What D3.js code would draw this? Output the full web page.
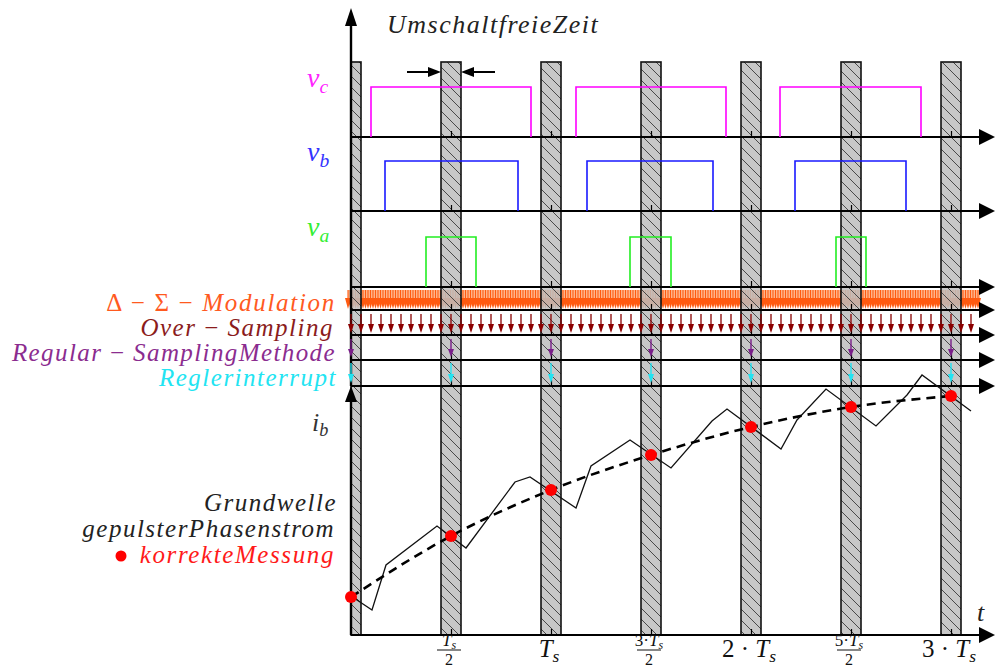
<!DOCTYPE html>
<html><head><meta charset="utf-8">
<script src="https://cdn.jsdelivr.net/npm/d3@7"></script>
<style>
body{margin:0;background:#fff}
</style>
</head><body>
<svg id="c" width="995" height="668"></svg>
<script>
// ================= DATA (time in units of Ts) =================
const deadTimeCenters = [0, 0.5, 1, 1.5, 2, 2.5, 3];
const deadTimeWidth = 0.1;
const vcPulses = [[0.1, 0.9], [1.125, 1.875], [2.145, 2.85]];
const vbPulses = [[0.17, 0.835], [1.18, 1.81], [2.22, 2.775]];
const vaPulses = [[0.375, 0.625], [1.395, 1.6], [2.425, 2.575]];
const regularSamplingTimes = [0, 0.5, 1, 1.5, 2, 2.5, 3];
const interruptTimes = [0, 0.5, 1, 1.5, 2, 2.5, 3];
const overSamplingStep = 0.05, overSamplingEnd = 3.1;
const deltaSigmaStep = 0.0125, deltaSigmaStart = -0.015, deltaSigmaEnd = 3.145;
// pulsed phase current i_b (zig-zag)
const phaseT = [0, 0.105, 0.175, 0.43, 0.575, 0.82, 0.895, 1.125, 1.2, 1.395, 1.6, 1.805, 1.88, 2.15, 2.23, 2.375, 2.625, 2.78, 2.855, 3.1];
const phaseI = [39, 25, 70, 109, 87, 153, 158, 127, 169, 195, 167, 214, 226, 186, 215, 246, 209, 240, 260, 224];
// fundamental wave and correct measurements
const fundT = [0, 0.5, 1, 1.5, 2, 2.5, 3];
const fundI = [38, 99, 145, 180, 208, 228, 239];
const tickTimes = [0.5, 1, 1.5, 2, 2.5, 3];
const tickLabels = ["T_s/2", "T_s", "3·T_s/2", "2 · T_s", "5·T_s/2", "3 · T_s"];

// ================= LAYOUT =================
const FONT = "Liberation Serif";
const svg = d3.select("#c");
const x = d3.scaleLinear().domain([0, 3.2]).range([351, 991]);
const yI = d3.scaleLinear().domain([0, 250]).range([635, 385]);
const axisEnd = 3.22;
const rows = {vc:137, vb:211, va:287, ds:310, os:335, rs:360, ri:386};
const pulseH = 50, barTop = 62, bottomY = 635;

const defs = svg.append("defs");
const pat = defs.append("pattern").attr("id","hatch").attr("patternUnits","userSpaceOnUse")
  .attr("width",11).attr("height",11);
pat.append("path").attr("d","M-2,-2 L13,13 M-2,9 L2,13 M9,-2 L13,2")
  .attr("stroke","#3a3a3a").attr("stroke-width",0.9);

function arrowDown(g, xp, y0, y1, color, hw, hh, sw){
  g.append("line").attr("x1",xp).attr("x2",xp).attr("y1",y0).attr("y2",y1-hh+1)
    .attr("stroke",color).attr("stroke-width",sw);
  g.append("path").attr("d",`M${xp},${y1} L${xp-hw/2},${y1-hh} L${xp+hw/2},${y1-hh} Z`).attr("fill",color);
}

// ---- Delta-Sigma band ----
const gDS = svg.append("g");
const dsTimes = d3.range(deltaSigmaStart, deltaSigmaEnd, deltaSigmaStep);
gDS.append("rect").attr("x",x(deltaSigmaStart)).attr("y",290).attr("width",x(deltaSigmaEnd)-x(deltaSigmaStart)).attr("height",9)
  .attr("fill","#ffb891");
dsTimes.forEach(t => arrowDown(gDS, x(t), 290, rows.ds-1, "#ff5a10", 6, 11, 1.1));

// ---- dead-time bars ----
const gBars = svg.append("g");
deadTimeCenters.forEach(c => {
  const x0 = x(Math.max(0, c - deadTimeWidth/2)), x1 = x(c + deadTimeWidth/2);
  gBars.append("rect").attr("x",x0).attr("y",barTop).attr("width",x1-x0).attr("height",bottomY-barTop)
    .attr("fill","#bdbdbd").attr("fill-opacity",0.85);
  gBars.append("rect").attr("x",x0).attr("y",barTop).attr("width",x1-x0).attr("height",bottomY-barTop)
    .attr("fill","url(#hatch)").attr("stroke","#111").attr("stroke-width",1.6);
});

// ---- horizontal axes ----
const gAx = svg.append("g");
function hAxis(y){
  gAx.append("line").attr("x1",x(0)).attr("x2",x(axisEnd)-10).attr("y1",y).attr("y2",y)
    .attr("stroke","#000").attr("stroke-width",2.2);
  const tip = x(axisEnd);
  gAx.append("path").attr("d",`M${tip},${y} L${tip-16},${y-8} L${tip-16},${y+8} Z`).attr("fill","#000");
  const ax = d3.axisTop(x).tickValues(tickTimes).tickSize(6).tickFormat("");
  const g = gAx.append("g").attr("transform",`translate(0,${y})`).call(ax);
  g.select(".domain").remove();
  g.selectAll("line").attr("stroke","#000").attr("stroke-width",1.2);
}
[rows.vc, rows.vb, rows.va, rows.ds, rows.os, rows.rs, rows.ri, bottomY].forEach(hAxis);

// vertical axes
gAx.append("line").attr("x1",x(0)).attr("x2",x(0)).attr("y1",rows.ri).attr("y2",22).attr("stroke","#000").attr("stroke-width",2.4);
gAx.append("path").attr("d",`M${x(0)},8 L${x(0)-6},26 L${x(0)+6},26 Z`).attr("fill","#000");
gAx.append("line").attr("x1",x(0)).attr("x2",x(0)).attr("y1",bottomY).attr("y2",398).attr("stroke","#000").attr("stroke-width",2.4);
gAx.append("path").attr("d",`M${x(0)},386 L${x(0)-6},402 L${x(0)+6},402 Z`).attr("fill","#000");

// ---- pulses ----
const gP = svg.append("g").attr("fill","none").attr("stroke-width",1.6);
function pulses(data, base, color){
  const yP = d3.scaleLinear().domain([0,1]).range([base, base - pulseH]);
  data.forEach(([a,b]) => {
    gP.append("path").attr("d",`M${x(a)},${yP(0)} V${yP(1)} H${x(b)} V${yP(0)}`).attr("stroke",color);
  });
}
pulses(vcPulses, rows.vc, "#ff00ff");
pulses(vbPulses, rows.vb, "#1a1aff");
pulses(vaPulses, rows.va, "#22ee22");

// ---- sampling arrows ----
const gS = svg.append("g");
d3.range(0, overSamplingEnd + 1e-9, overSamplingStep).forEach(t => arrowDown(gS, x(t), 314, 333, "#8b0000", 6, 9, 1.3));
regularSamplingTimes.forEach(t => arrowDown(gS, x(t), 339, 357, "#7a1f8a", 6, 8, 1.4));
interruptTimes.forEach(t => arrowDown(gS, x(t), 363, 383, "#22e4f2", 6, 9, 1.4));

// ---- current ----
const gC = svg.append("g");
gC.append("path").datum(d3.zip(phaseT, phaseI))
  .attr("d", d3.line().x(d=>x(d[0])).y(d=>yI(d[1])))
  .attr("fill","none").attr("stroke","#111").attr("stroke-width",1.3);
gC.append("path").datum(d3.zip(fundT, fundI))
  .attr("d", d3.line().x(d=>x(d[0])).y(d=>yI(d[1])).curve(d3.curveMonotoneX))
  .attr("fill","none").attr("stroke","#000").attr("stroke-width",2.6).attr("stroke-dasharray","9,6");
gC.selectAll("circle").data(d3.zip(fundT, fundI)).join("circle")
  .attr("cx",d=>x(d[0])).attr("cy",d=>yI(d[1])).attr("r",6).attr("fill","#ff0000");

// ---- dimension arrows (Umschaltfreie Zeit) ----
const bx0 = x(0.5 - deadTimeWidth/2), bx1 = x(0.5 + deadTimeWidth/2);
gAx.append("line").attr("x1",bx0-34).attr("x2",bx0-10).attr("y1",72).attr("y2",72).attr("stroke","#000").attr("stroke-width",2);
gAx.append("path").attr("d",`M${bx0},72 L${bx0-13},67 L${bx0-13},77 Z`).attr("fill","#000");
gAx.append("line").attr("x1",bx1+34).attr("x2",bx1+10).attr("y1",72).attr("y2",72).attr("stroke","#000").attr("stroke-width",2);
gAx.append("path").attr("d",`M${bx1},72 L${bx1+13},67 L${bx1+13},77 Z`).attr("fill","#000");

// ---- text ----
const gT = svg.append("g");
function plain(xp, y, str, size, color, anchor, spacing){
  return gT.append("text").attr("x",xp).attr("y",y).attr("font-size",size)
    .attr("font-family",FONT).attr("font-style","italic")
    .attr("letter-spacing", spacing || 0)
    .attr("fill",color).attr("text-anchor",anchor||"start").text(str);
}
function rich(xp, y, parts, size, color, anchor, spacing){
  const t = gT.append("text").attr("x",xp).attr("y",y).attr("font-size",size)
    .attr("font-family",FONT).attr("font-style","italic")
    .attr("letter-spacing", spacing || 0)
    .attr("fill",color).attr("text-anchor",anchor||"start");
  let shifted = false;
  parts.forEach(p => {
    const ts = t.append("tspan").text(p.t);
    if (p.up) ts.attr("font-style","normal");
    if (p.sub){ ts.attr("font-size", size*0.7); if(!shifted){ ts.attr("dy", size*0.2); shifted = true; } }
    else if (shifted){ ts.attr("dy", -size*0.2); shifted = false; }
  });
  return t;
}
plain(387, 33, "UmschaltfreieZeit", 26, "#222", "start", 1.5);
rich(307, 87, [{t:"v"},{t:"c",sub:1}], 28, "#ff22ff");
rich(307, 161, [{t:"v"},{t:"b",sub:1}], 28, "#3333ff");
rich(307, 236, [{t:"v"},{t:"a",sub:1}], 28, "#33ee33");
rich(336, 311, [{t:"Δ − Σ − ",up:1},{t:"Modulation"}], 25, "#ff5a1f", "end", 1.7);
rich(334, 336, [{t:"Over"},{t:" − ",up:1},{t:"Sampling"}], 25, "#8b1c1c", "end", 1.5);
rich(336, 361, [{t:"Regular"},{t:" − ",up:1},{t:"SamplingMethode"}], 25, "#8b2c8f", "end", 1.4);
plain(337, 386, "Reglerinterrupt", 25, "#22e4f2", "end", 1.5);
rich(312, 431, [{t:"i"},{t:"b",sub:1}], 26, "#333");
plain(337, 511, "Grundwelle", 25, "#222", "end", 1.5);
plain(335, 537, "gepulsterPhasenstrom", 25, "#222", "end", 1.5);
plain(335, 563, "korrekteMessung", 25, "#ff1a1a", "end", 1.6);
gT.append("circle").attr("cx",121).attr("cy",556).attr("r",5.5).attr("fill","#ff0000");
plain(977, 621, "t", 26, "#222");

// tick labels
function labelParts(s){
  const parts = [];
  const m = s.match(/^(.*?)T_s$/);
  if (m[1]) parts.push({t:m[1], up:1});
  parts.push({t:"T"}); parts.push({t:"s", sub:1});
  return parts;
}
tickTimes.forEach((t,i) => {
  const s = tickLabels[i];
  const cx = x(t) - 2;
  if (s.includes("/")){
    const [num, den] = s.split("/");
    rich(cx, 646, labelParts(num), 17, "#111", "middle");
    gT.append("line").attr("x1",cx-12).attr("x2",cx+12).attr("y1",650).attr("y2",650).attr("stroke","#111").attr("stroke-width",1);
    plain(cx, 665, den, 16, "#111", "middle").attr("font-style","normal");
  } else {
    rich(cx, 657, labelParts(s), 25, "#111", "middle");
  }
});
</script>
</body></html>
